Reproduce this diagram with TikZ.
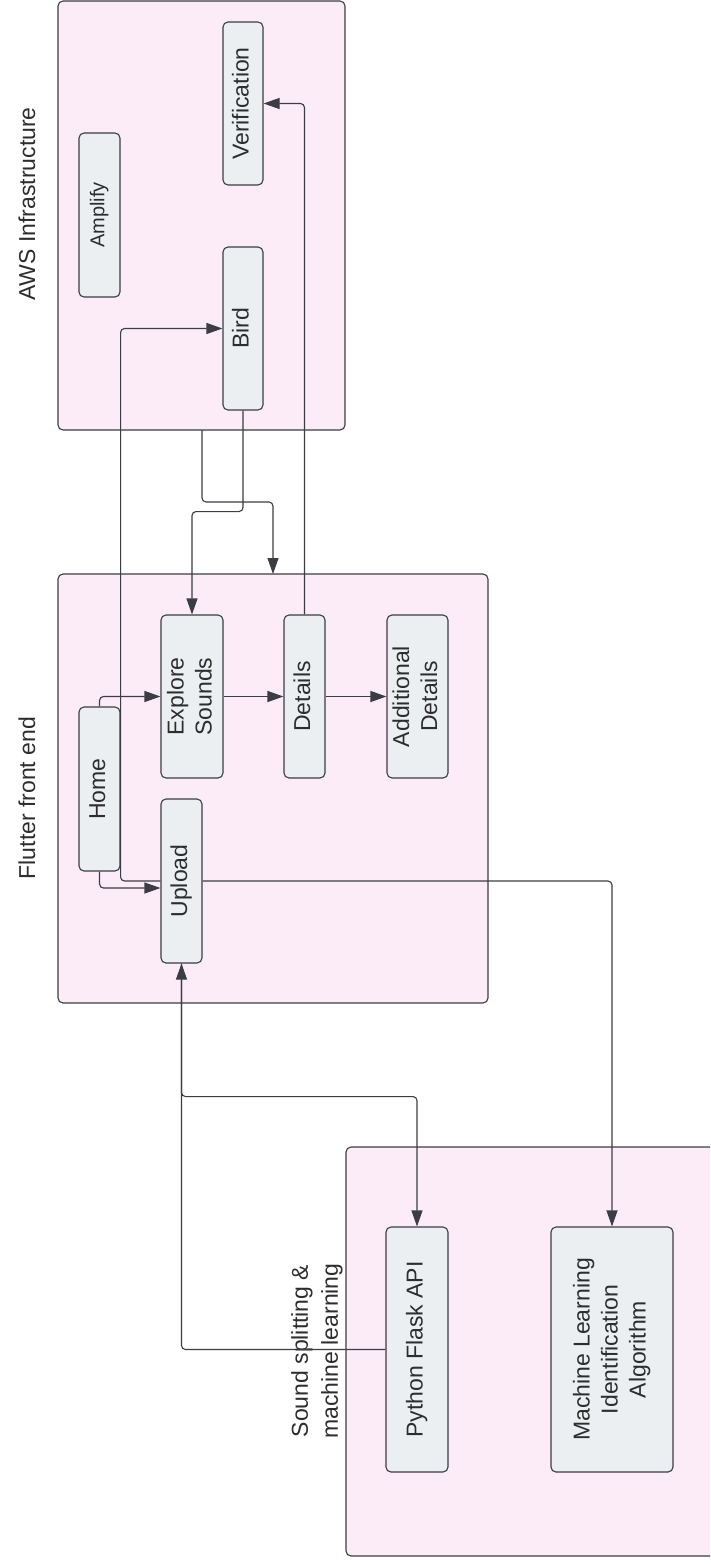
\documentclass[tikz,border=0pt]{standalone}
\usepackage{fontspec}
\setmainfont{Liberation Sans}
\usetikzlibrary{arrows.meta,calc}
\definecolor{cpink}{RGB}{252,236,248}
\definecolor{cbox}{RGB}{236,239,242}
\definecolor{cline}{RGB}{60,60,68}
\definecolor{ctext}{RGB}{45,45,45}
\newcommand{\rtxt}[1]{\rotatebox{90}{\begin{tabular}{@{}c@{}}#1\end{tabular}}}
\begin{document}
\begin{tikzpicture}[x=1pt,y=-1pt,
  container/.style={draw=cline, fill=cpink, line width=1.1pt, rounded corners=5pt, inner sep=0pt},
  box/.style={draw=cline, fill=cbox, line width=1.1pt, rounded corners=5pt, inner sep=0pt,
    text=ctext, font=\fontsize{23}{28}\selectfont},
  lbl/.style={text=ctext, inner sep=0pt, font=\fontsize{23}{30}\selectfont, align=center},
  arr/.style={draw=cline, line width=1.1pt, rounded corners=4pt, -{Triangle[length=16pt,width=11pt]}}]
\useasboundingbox (0,0) rectangle (710,1566);
\clip (0,0) rectangle (710,1566);
\fill[white] (0,0) rectangle (710,1566);

% containers
\node[container, minimum width=287pt, minimum height=429pt] (aws) at (201.5,215.5) {};
\node[container, minimum width=430pt, minimum height=429pt] (flutter) at (273,788.5) {};
\node[container, minimum width=374pt, minimum height=409pt] (ml) at (533,1351.5) {};

% titles
\node[lbl, rotate=90] (awst) at (27,204) {AWS Infrastructure};
\node[lbl, rotate=90] (flutt) at (27,798) {Flutter front end};
\node[lbl, rotate=90] (mlt) at (317,1351) {Sound splitting \&\\machine learning};

% boxes
\node[box, minimum width=41pt, minimum height=164pt, font=\fontsize{20}{24}\selectfont] (amplify) at (99.5,215) {\rtxt{Amplify}};
\node[box, minimum width=40pt, minimum height=163pt] (verif) at (243,103.5) {\rtxt{Verification}};
\node[box, minimum width=40pt, minimum height=163pt] (bird) at (243,328.5) {\rtxt{Bird}};
\node[box, minimum width=41pt, minimum height=164pt] (home) at (99.5,789) {\rtxt{Home}};
\node[box, minimum width=62pt, minimum height=163pt] (explore) at (192,696.5) {\rtxt{Explore\\Sounds}};
\node[box, minimum width=41pt, minimum height=163pt] (details) at (304.5,696.5) {\rtxt{Details}};
\node[box, minimum width=61pt, minimum height=163pt] (addl) at (417.5,696.5) {\rtxt{Additional\\Details}};
\node[box, minimum width=41pt, minimum height=164pt] (upload) at (181.5,881) {\rtxt{Upload}};
\node[box, minimum width=62pt, minimum height=245pt] (flask) at (417,1349.5) {\rtxt{Python Flask API}};
\node[box, minimum width=122pt, minimum height=245pt] (mlalg) at (612,1349.5) {\rtxt{Machine Learning\\Identification\\Algorithm}};

% connector anchors
\coordinate (awsout) at (202,430);
\coordinate (flutin) at (273,574);

% connectors
\draw[arr] (home.north) |- (explore.west);
\draw[arr] (explore.east) -- (details.west);
\draw[arr] (details.east) -- (addl.west);
\draw[arr] (home.south) |- ($(upload.west)+(0,7)$);
\draw[arr] (upload.west) -| (home.east |- bird.west) -- (bird.west);
\draw[arr] (bird.south) -- ++(0,101) -| (explore.north);
\draw[arr] (awsout) |- ($(awsout)!.5!(flutin)$) -| (flutin);
\draw[arr] (details.north) |- (verif.east);
\draw[arr] (upload.east) -| (mlalg.north);
\draw[arr] (upload.south) -- ++(0,133) -| (flask.north);
\draw[arr] (flask.west) -| (upload.south);
\end{tikzpicture}
\end{document}
